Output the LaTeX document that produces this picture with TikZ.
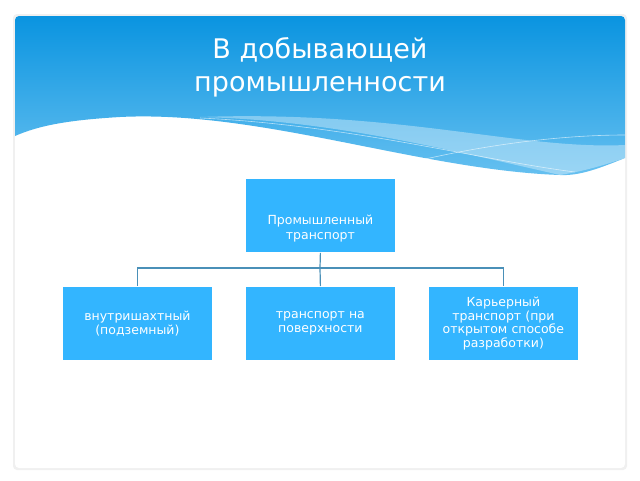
\documentclass[tikz,border=0pt]{standalone}
\usepackage{fontspec}
\setmainfont{DejaVu Sans}
\begin{document}
\begin{tikzpicture}[x=1pt,y=-1pt,
  boxstyle/.style={fill=boxblue,draw=white,line width=0.8pt,minimum width=150pt,minimum height=74pt,anchor=north west,inner sep=0pt},
  txt/.style={text=white,font=\fontsize{12.5}{14.5}\selectfont,align=center,text width=144pt,anchor=center},
  conn/.style={draw=linkblue,line width=1.2pt}]
\definecolor{boxblue}{HTML}{33B5FF}
\definecolor{linkblue}{HTML}{4A90B8}
\definecolor{topblue}{HTML}{0A94E0}
\definecolor{lowblue}{HTML}{66C0F0}
\useasboundingbox (0,0) rectangle (640,480);
\fill[white] (0,0) rectangle (640,480);
\fill[black!6,rounded corners=4pt] (13,14) rectangle (627,470);
\fill[white,rounded corners=4pt] (15,16) rectangle (625,468);
% header
\begin{scope}
\clip[rounded corners=4pt] (15,16) rectangle (625,240);
\shade[top color=topblue,bottom color=lowblue] (15,16) -- (625,16) -- (625,158)
  .. controls (600,168) and (580,176) .. (560,175)
  .. controls (420,170) and (260,110) .. (120,117)
  .. controls (70,120) and (40,125) .. (15,136) -- cycle;
\fill[white,opacity=0.35] (200,117) .. controls (330,120) and (450,150) .. (560,175)
  .. controls (590,170) and (610,163) .. (625,158) -- (625,145)
  .. controls (520,150) and (400,110) .. (200,117) -- cycle;
\draw[white,opacity=0.6,line width=0.6pt] (200,118) .. controls (350,125) and (480,160) .. (575,172);
\draw[white,opacity=0.6,line width=0.6pt] (400,165) .. controls (480,145) and (560,135) .. (625,135);
\end{scope}
\node[text=white,font=\fontsize{27}{33}\selectfont,align=center] (title) at (320,67) {В добывающей\\промышленности};
% boxes
\node[boxstyle] (top) at (245,178) {};
\node[boxstyle] (b1) at (62,286) {};
\node[boxstyle] (b2) at (245,286) {};
\node[boxstyle] (b3) at (428,286) {};
\node[txt] (ttop) at ([yshift=-13]top.center) {Промышленный транспорт};
\node[txt] (t1) at (b1.center) {внутришахтный (подземный)};
\node[txt] (t2) at (b2.center) {транспорт на поверхности};
\begin{scope}
\clip (b3.north west) rectangle (b3.south east);
\node[txt,font=\fontsize{12.5}{13.5}\selectfont] (t3) at (b3.center) {Карьерный транспорт (при открытом способе разработки)};
\end{scope}
\coordinate (j) at (320,268);
\draw[conn] (top.south) -- (j);
\draw[conn] (j) -- (b2.north);
\draw[conn] (j) -| (b1.north);
\draw[conn] (j) -| (b3.north);
\end{tikzpicture}
\end{document}
